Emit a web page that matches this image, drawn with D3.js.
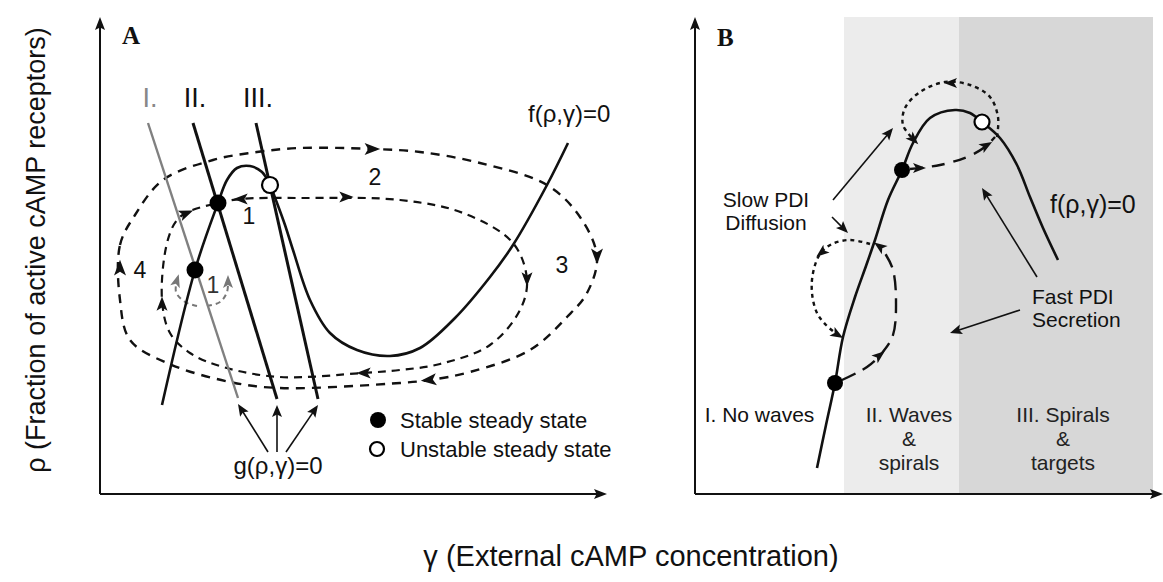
<!DOCTYPE html>
<html><head><meta charset="utf-8">
<script src="https://cdn.jsdelivr.net/npm/d3@7"></script>
<style>
body{margin:0;background:#fff}
svg{display:block}
text{font-family:"Liberation Sans",Arial,Helvetica,sans-serif;fill:#111}
</style>
</head><body>
<svg id="c" width="1163" height="582"></svg>
<script>
// ---------------- DATA (arbitrary units: gamma horizontal, rho vertical) ----------------
// Panel A
const fCurveA = [[12.4,17.8],[19,44.8],[23.6,58.2],[25.4,62.8],[27.4,65.2],[30,65.6],[32.4,64.4],[34,61.8],[35.4,58.2],[37,53.8],[38.6,48.8],[42,38.8],[46,32.2],[51.4,28.8],[58,27.6],[64,29.2],[71,35.2],[78,43.4],[82.6,49.8],[89.4,61.8],[93.6,70.2]];
const gNames = ["I.","II.","III."];
const gStart = [[9.6,74.2],[18.6,74.2],[31.2,74.2]];
const gEnd   = [[27.6,19.2],[35.4,19],[43.6,19]];
const stableA = [[23.6,58.2],[19,44.8]];
const unstableA = [[34,61.8]];
const outerLoopA = [[4,38.8],[4,49.8],[7,55.8],[12.6,62.8],[22.6,66.8],[31.4,68.4],[40,69.2],[54.6,69],[64,68.4],[76,66.2],[89.4,61.8],[96,55.4],[99.4,47.4],[97.4,40.2],[93.4,35.4],[86,28.8],[74,24.4],[66,22.8],[60,22.2],[36,21.2],[26,22.4],[13.4,26.2],[6,30.8]];
const outerArrowsA = [{at:[54.6,69],dir:[1,0]},{at:[99.4,47.4],dir:[0,-1]},{at:[65.6,22.8],dir:[-1,-0.1]},{at:[4,45.4],dir:[0,1]}];
const innerLoopA = [[23.6,58.2],[28,59],[40,59.2],[60,58.8],[72.6,56.2],[82.6,50.2],[85.4,42.8],[84,36.8],[78,29.8],[68,26],[60,24.8],[52.6,24.2],[36,23.4],[24.6,25.4],[18,28.2],[14,32.2],[12.4,38.8],[13.4,50.2],[15.4,54.8],[18,56.6],[23.6,58.2]];
const innerArrowsA = [{at:[28,59],dir:[-1,0]},{at:[49.4,59.4],dir:[1,0]},{at:[85.4,42.8],dir:[0,-1]},{at:[52.6,24.2],dir:[-1,0]},{at:[12.4,38.2],dir:[0,1]},{at:[17.4,56.2],dir:[1,0.4]}];
const smallLoopLeftA = [[19.4,37.6],[17,38.4],[15.2,40.4],[15.4,42.8]];
const smallLoopRightA = [[21.4,37.6],[24,38.4],[25.4,40.4],[25.6,42.6]];
const loopNumbers = ["1","1","2","3","4"];
const loopNumberPos = [[29.8,55.6],[22.6,41.8],[55,63.4],[92.4,45.8],[8,44.8]];
const legendLabels = ["Stable steady state","Unstable steady state"];

// Panel B
const fCurveB = [[24.4,5.2],[26.2,13.8],[28,22.2],[29.6,31.4],[32,39.4],[34.2,45.6],[36,50.8],[38.6,58.8],[41.4,64.8],[43.6,70.2],[47,75.2],[52,76.8],[55,76.2],[57.4,74.4],[61,71.2],[64.4,65.8],[67,59.4],[69.6,53.2],[72.6,46.8]];
const stableB = [[28,22.2],[41.4,64.8]];
const unstableB = [[57.4,74.4]];
const bandEdges = [29.8,52.8,91.6];
const bandFills = ["#ececec","#d7d7d7"];
const regionLabels = [["I. No waves"],["II. Waves","&","spirals"],["III. Spirals","&","targets"]];
const topDottedB = [[60.4,71.4],[60.6,75.4],[59,79.4],[55,81.8],[50,82.4],[45,80.4],[42,77.2],[41.6,73.8],[43.8,70.8]];
const topDottedArrowsB = [{at:[51,82.2],dir:[-1,0]},{at:[43.8,70.8],dir:[1,-1]}];
const topDashedB = [[43,65],[49,65.8],[54.4,67.4],[58,69.4],[60,71.4]];
const topDashedArrowsB = [{at:[45,65.2],dir:[1,0]},{at:[58.4,69.8],dir:[1,0.6]}];
const lowDashedB = [[29.4,22.8],[34.4,25.4],[37.4,28.2],[39.6,31.8],[40.2,38.8],[39.6,44.8],[38.2,47.8],[36.8,49.6]];
const lowDashedArrowsB = [{at:[37,27.8],dir:[1,0.8]},{at:[36.8,49.6],dir:[-0.7,0.5]}];
const lowDottedB = [[35,50],[31,50.8],[27.4,50],[25,48],[23.6,44.2],[23.4,40.2],[24.4,36.2],[26.2,33.8],[28.6,31.8]];
const lowDottedArrowsB = [{at:[25.2,48.2],dir:[-1,-0.8]},{at:[28.6,31.8],dir:[1,-0.6]}];
const pointersB = [[[27.6,58.8],[39.6,73.2]],[[27.4,55.4],[30.6,52.2]],[[68.4,43.4],[57.4,61.2]],[[65,36.8],[51,32.2]]];
const noteLabels = [["Slow PDI","Diffusion"],["Fast PDI","Secretion"]];

const xTitle = "\u03B3 (External cAMP concentration)";
const yTitle = "\u03C1 (Fraction of active cAMP receptors)";
const fLabel = "f(\u03C1,\u03B3)=0";
const gLabel = "g(\u03C1,\u03B3)=0";

// ---------------- SCALES ----------------
const svg = d3.select("#c");
const xA = d3.scaleLinear().domain([0,100]).range([100,600]);
const xB = d3.scaleLinear().domain([0,100]).range([695,1195]);
const y  = d3.scaleLinear().domain([0,95]).range([494,19]);
const axisTopRho = 95.4, axisEndA = 101.4, axisEndB = 93.6;

const lineOpen = sx => d3.line().x(d=>sx(d[0])).y(d=>y(d[1])).curve(d3.curveCatmullRom.alpha(0.5));
const lineClosed = sx => d3.line().x(d=>sx(d[0])).y(d=>y(d[1])).curve(d3.curveCatmullRomClosed.alpha(0.5));

function head(g, sx, a, color, size){
  size = size || 1;
  const X = sx(a.at[0]), Y = y(a.at[1]);
  const ang = Math.atan2(-a.dir[1], a.dir[0]) * 180/Math.PI;
  g.append("path")
    .attr("d", `M${6*size},0 L${-7*size},${-5*size} L${-4*size},0 L${-7*size},${5*size} Z`)
    .attr("transform", `translate(${X},${Y}) rotate(${ang})`)
    .attr("fill", color);
}
function solidHead(g, X, Y, ang, color, len, w){
  g.append("path")
    .attr("d", `M0,0 L${-len},${-w} L${-len*0.8},0 L${-len},${w} Z`)
    .attr("transform", `translate(${X},${Y}) rotate(${ang})`)
    .attr("fill", color);
}
function pointer(g, X1, Y1, X2, Y2, color){
  const ang = Math.atan2(Y2-Y1, X2-X1)*180/Math.PI;
  const L = Math.hypot(X2-X1, Y2-Y1);
  const ux=(X2-X1)/L, uy=(Y2-Y1)/L;
  g.append("line").attr("x1",X1).attr("y1",Y1).attr("x2",X2-ux*8).attr("y2",Y2-uy*8)
    .attr("stroke",color).attr("stroke-width",1.6);
  solidHead(g, X2, Y2, ang, color, 12, 5);
}
function axes(g, sx, xEnd){
  g.append("line").attr("x1",sx(0)).attr("y1",y(0)).attr("x2",sx(xEnd)-8).attr("y2",y(0)).attr("stroke","#111").attr("stroke-width",2);
  g.append("line").attr("x1",sx(0)).attr("y1",y(0)).attr("x2",sx(0)).attr("y2",y(axisTopRho)+8).attr("stroke","#111").attr("stroke-width",2);
  solidHead(g, sx(xEnd), y(0), 0, "#111", 13, 5);
  solidHead(g, sx(0), y(axisTopRho), -90, "#111", 13, 5);
}
function multiline(g, lines, x, y0, dy, size, anchor, fill){
  lines.forEach((s,j)=>g.append("text").attr("x",x).attr("y",y0+j*dy).attr("text-anchor",anchor)
    .style("font-size",size).style("fill",fill||"#111").text(s));
}

// ---------------- PANEL B backgrounds ----------------
const gB = svg.append("g");
gB.selectAll("rect.band").data(bandFills).join("rect")
  .attr("x",(d,i)=>xB(bandEdges[i])).attr("width",(d,i)=>xB(bandEdges[i+1])-xB(bandEdges[i]))
  .attr("y",y(axisTopRho)).attr("height",y(0)-y(axisTopRho)).attr("fill",d=>d);

// ---------------- PANEL A ----------------
const gA = svg.append("g");
axes(gA, xA, axisEndA);
gA.append("text").text("A").attr("x",122).attr("y",44).style("font-family","'Liberation Serif',Times,serif").style("font-weight","bold").style("font-size","25px");

gA.append("path").attr("d",lineClosed(xA)(outerLoopA)).attr("fill","none").attr("stroke","#111").attr("stroke-width",2.4).attr("stroke-dasharray","9,7");
gA.append("path").attr("d",lineOpen(xA)(innerLoopA)).attr("fill","none").attr("stroke","#111").attr("stroke-width",2.2).attr("stroke-dasharray","8,6");
outerArrowsA.forEach(a=>head(gA,xA,a,"#111",1.2));
innerArrowsA.forEach(a=>head(gA,xA,a,"#111",1.1));
[smallLoopLeftA, smallLoopRightA].forEach(pts=>{
  gA.append("path").attr("d",lineOpen(xA)(pts)).attr("fill","none").attr("stroke","#777").attr("stroke-width",2).attr("stroke-dasharray","5,4");
});
head(gA,xA,{at:smallLoopLeftA[3],dir:[0.3,1]},"#777",1);
head(gA,xA,{at:smallLoopRightA[3],dir:[0,1]},"#777",1);

gA.selectAll("line.g").data(gStart).join("line")
  .attr("x1",d=>xA(d[0])).attr("y1",d=>y(d[1]))
  .attr("x2",(d,i)=>xA(gEnd[i][0])).attr("y2",(d,i)=>y(gEnd[i][1]))
  .attr("stroke",(d,i)=>i===0?"#808080":"#111").attr("stroke-width",(d,i)=>i===0?2.4:3);
gA.selectAll("text.gname").data(gNames).join("text")
  .attr("x",(d,i)=>xA(gStart[i][0])+2).attr("y",(d,i)=>y(gStart[i][1])-16)
  .attr("text-anchor","middle").style("font-size","27px")
  .style("fill",(d,i)=>i===0?"#888":"#111").text(d=>d);

gA.append("path").attr("d",lineOpen(xA)(fCurveA)).attr("fill","none").attr("stroke","#111").attr("stroke-width",2.6);
gA.append("text").text(fLabel).attr("x",528).attr("y",122).style("font-size","24px");

gA.selectAll("circle.s").data(stableA).join("circle").attr("cx",d=>xA(d[0])).attr("cy",d=>y(d[1])).attr("r",8.5).attr("fill","#000");
gA.selectAll("circle.u").data(unstableA).join("circle").attr("cx",d=>xA(d[0])).attr("cy",d=>y(d[1])).attr("r",8).attr("fill","#fff").attr("stroke","#000").attr("stroke-width",2.2);

gA.selectAll("text.num").data(loopNumbers).join("text")
  .attr("x",(d,i)=>xA(loopNumberPos[i][0])).attr("y",(d,i)=>y(loopNumberPos[i][1])+8)
  .attr("text-anchor","middle").style("font-size","23px").style("fill",(d,i)=>i===1?"#333":"#111").text(d=>d);

// g label + arrows
const gStartX = [268, 277, 286], gStartY = 452;
gEnd.forEach((e,i)=>pointer(gA, gStartX[i], gStartY, xA(e[0]), y(e[1])+6, "#111"));
gA.append("text").text(gLabel).attr("x",278).attr("y",474).attr("text-anchor","middle").style("font-size","24px");

// legend
gA.append("circle").attr("cx",378).attr("cy",420).attr("r",8).attr("fill","#000");
gA.append("circle").attr("cx",377).attr("cy",449).attr("r",7).attr("fill","#fff").attr("stroke","#000").attr("stroke-width",2.2);
gA.selectAll("text.leg").data(legendLabels).join("text").attr("x",400).attr("y",(d,i)=>428+i*29).style("font-size","22px").text(d=>d);

// ---------------- PANEL B ----------------
axes(gB, xB, axisEndB);
gB.append("text").text("B").attr("x",717).attr("y",46).style("font-family","'Liberation Serif',Times,serif").style("font-weight","bold").style("font-size","25px");

gB.append("path").attr("d",lineOpen(xB)(fCurveB)).attr("fill","none").attr("stroke","#111").attr("stroke-width",2.6);
gB.append("text").text(fLabel).attr("x",1050).attr("y",213).style("font-size","25px");

gB.append("path").attr("d",lineOpen(xB)(topDottedB)).attr("fill","none").attr("stroke","#111").attr("stroke-width",2.4).attr("stroke-dasharray","4,4");
topDottedArrowsB.forEach(a=>head(gB,xB,a,"#111",1));
gB.append("path").attr("d",lineOpen(xB)(topDashedB)).attr("fill","none").attr("stroke","#111").attr("stroke-width",2.4).attr("stroke-dasharray","13,9");
topDashedArrowsB.forEach(a=>head(gB,xB,a,"#111",1));
gB.append("path").attr("d",lineOpen(xB)(lowDashedB)).attr("fill","none").attr("stroke","#111").attr("stroke-width",2.4).attr("stroke-dasharray","15,8");
lowDashedArrowsB.forEach(a=>head(gB,xB,a,"#111",1));
gB.append("path").attr("d",lineOpen(xB)(lowDottedB)).attr("fill","none").attr("stroke","#111").attr("stroke-width",2.4).attr("stroke-dasharray","4,4");
lowDottedArrowsB.forEach(a=>head(gB,xB,a,"#111",1));

gB.selectAll("circle.s").data(stableB).join("circle").attr("cx",d=>xB(d[0])).attr("cy",d=>y(d[1])).attr("r",8).attr("fill","#000");
gB.selectAll("circle.u").data(unstableB).join("circle").attr("cx",d=>xB(d[0])).attr("cy",d=>y(d[1])).attr("r",7.5).attr("fill","#fff").attr("stroke","#000").attr("stroke-width",2.2);

pointersB.forEach(p=>pointer(gB, xB(p[0][0]), y(p[0][1]), xB(p[1][0]), y(p[1][1]), "#111"));

multiline(gB, noteLabels[0], 766, 207, 23, "21px", "middle");
multiline(gB, noteLabels[1], 1032, 304, 23, "21px", "start");
const regX = [759.5, 909, 1063];
regionLabels.forEach((lines,i)=>multiline(gB, lines, regX[i], 422, 24, "21px", "middle", i===0?"#111":"#222"));

// ---------------- TITLES ----------------
svg.append("text").text(xTitle).attr("x",631).attr("y",566).attr("text-anchor","middle").style("font-size","29px");
svg.append("text").text(yTitle).attr("transform","translate(45,250) rotate(-90)").attr("text-anchor","middle").style("font-size","27px");
</script>
</body></html>
